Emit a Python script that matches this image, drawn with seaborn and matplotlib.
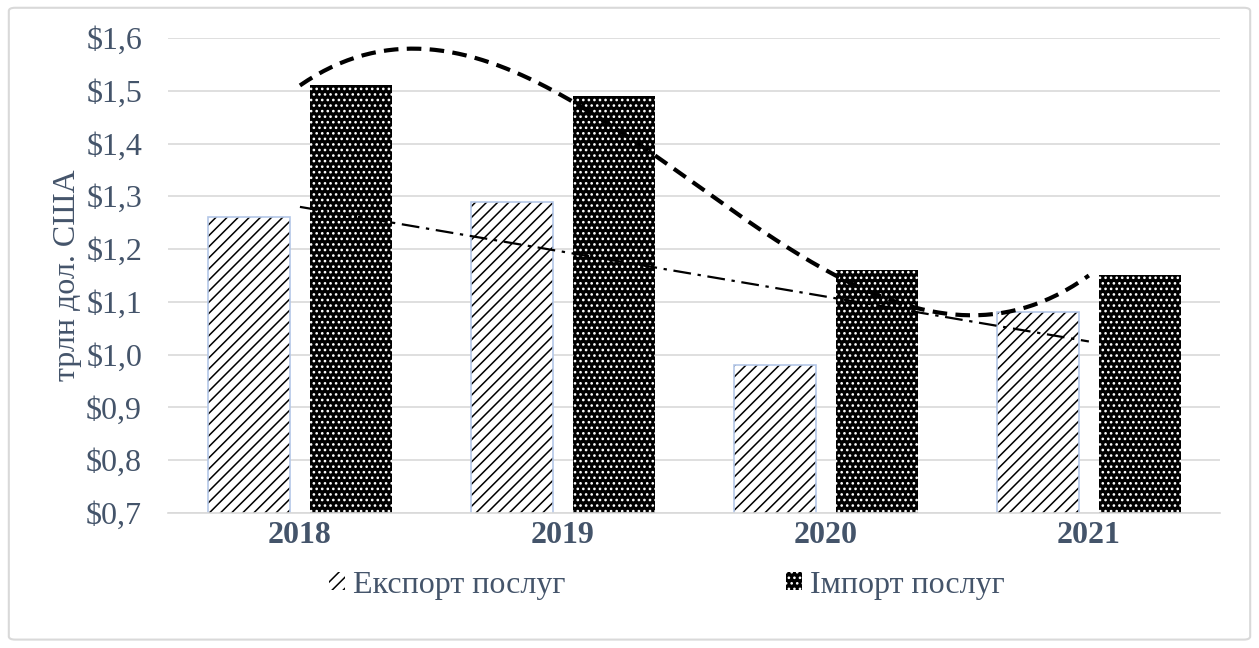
import numpy as np
import pandas as pd
import matplotlib
matplotlib.use('Agg')
import matplotlib.pyplot as plt
import seaborn as sns
from matplotlib.patches import Patch, Rectangle, FancyBboxPatch
from matplotlib.ticker import FuncFormatter

years = ['2018', '2019', '2020', '2021']
export = [1.26, 1.29, 0.98, 1.08]
imports = [1.51, 1.49, 1.16, 1.15]
series = ['Експорт послуг', 'Імпорт послуг']
ylabel = 'трлн дол. США'

sns.set_style('white')
plt.rcParams['font.family'] = ['Liberation Serif', 'DejaVu Serif']
plt.rcParams['hatch.linewidth'] = 1.1
txt = '#44546A'
grid = '#D9D9D9'
blue_edge = '#B4C7E7'

df = pd.DataFrame({'year': years * 2,
                   'value': export + imports,
                   'series': [series[0]] * 4 + [series[1]] * 4})

fig = plt.figure(figsize=(12.59, 6.48), dpi=100)
ax = fig.add_axes([0.1338, 0.2083, 0.8355, 0.7331])
sns.barplot(data=df, x='year', y='value', hue='series', palette=['white', 'black'],
            width=0.78, gap=0.2, legend=False, ax=ax, zorder=2)

# hatch colour follows edge colour, so hatch with lw 0 and outline separately
bars = list(ax.patches)
for p in bars[:4]:
    p.set_facecolor('white')
    p.set_edgecolor('black')
    p.set_hatch('///')
    p.set_linewidth(0)
    ax.add_patch(Rectangle(p.get_xy(), p.get_width(), p.get_height(), fill=False,
                           edgecolor=blue_edge, lw=1.2, zorder=2.5))
for p in bars[4:8]:
    p.set_facecolor('black')
    p.set_edgecolor('white')
    p.set_hatch('...')
    p.set_linewidth(0)

# trend lines
x = np.arange(len(years))
xs = np.linspace(0, len(years) - 1, 200)
ax.plot(xs, np.polyval(np.polyfit(x, imports, 3), xs), color='black', lw=3,
        dashes=(3.5, 2), zorder=3)
ax.plot(xs, np.polyval(np.polyfit(x, export, 1), xs), color='black', lw=1.6,
        dashes=(8, 3, 1.5, 3), zorder=3)

ax.set_xlim(-0.5, 3.5)
ax.set_ylim(0.7, 1.6)
ax.set_yticks(np.arange(0.7, 1.61, 0.1))
ax.yaxis.set_major_formatter(FuncFormatter(lambda v, _: ('$%.1f' % v).replace('.', ',')))
ax.grid(axis='y', color=grid, lw=1.2, zorder=0)
ax.set_axisbelow(True)
sns.despine(ax=ax, left=True, top=True, right=True)
ax.spines['bottom'].set_color(grid)
ax.spines['bottom'].set_linewidth(1.2)
ax.tick_params(axis='both', length=0, labelsize=23, labelcolor=txt)
ax.tick_params(axis='y', pad=19)
ax.tick_params(axis='x', pad=6)
for lab in ax.get_xticklabels():
    lab.set_fontweight('bold')
ax.set_xlabel('')
ax.set_ylabel(ylabel, fontsize=23, color=txt, labelpad=3)

handles = [Patch(facecolor='white', edgecolor='black', hatch='///', lw=0),
           Patch(facecolor='black', edgecolor='white', hatch='...', lw=0)]
fig.legend(handles, series, loc='center', bbox_to_anchor=(0.53, 0.097), ncol=2,
           frameon=False, fontsize=23, labelcolor=txt, handlelength=0.5,
           handleheight=0.5, handletextpad=0.25, columnspacing=6.9)

fig.patches.append(FancyBboxPatch((0.007, 0.013), 0.986, 0.975, boxstyle='round,pad=0,rounding_size=0.005',
                                  transform=fig.transFigure, fill=False, edgecolor=grid, lw=1.5))

fig.savefig('out.png', dpi=100, facecolor='white')
